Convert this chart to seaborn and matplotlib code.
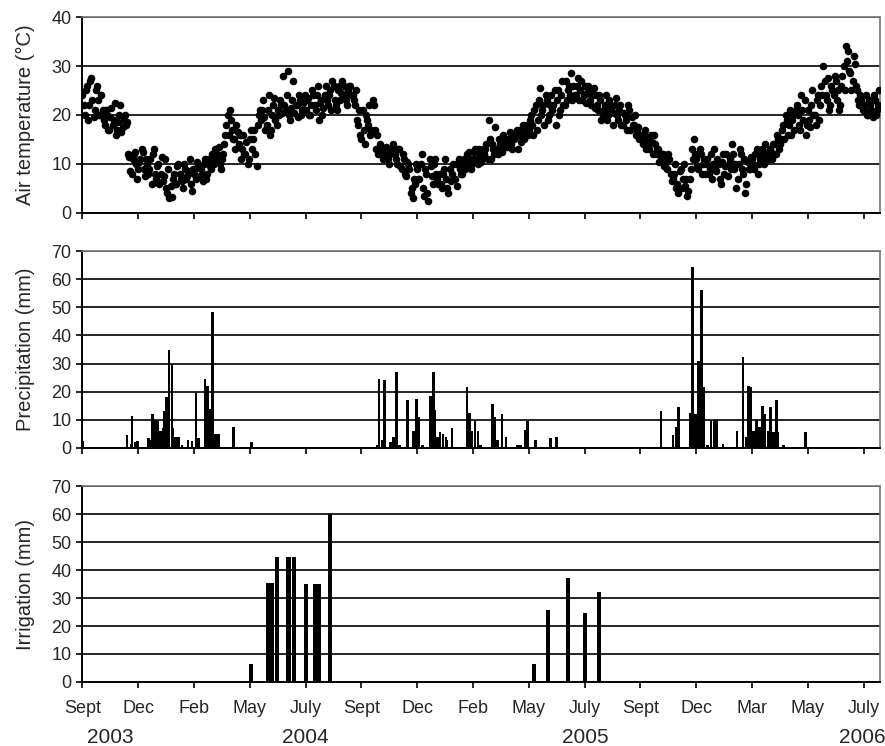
import numpy as np
import pandas as pd
import seaborn as sns
import matplotlib.pyplot as plt

# Air temperature (deg C): one reading every 3 days from
# the start of Sept 2003, plus a second set half way between those days
temp_step = 3
air_temp = [
    24, 20, 26, 22, 27.5, 19.5, 25, 23, 20, 21,
    18, 20, 17, 21.5, 19, 16, 18.5, 22, 17.5, 20,
    18.5, 11.5, 8, 12, 10, 9, 11, 12.5, 7.5, 10,
    9, 6, 13, 7, 10, 8, 6.5, 11, 4, 3,
    3.2, 8, 6, 10, 7, 5, 9, 7.5, 11, 4.5,
    8, 7, 10, 9, 6.5, 11, 8, 9.5, 12, 10,
    11, 13.5, 9, 12, 16, 20, 21, 17, 15, 18,
    14, 11, 16, 12, 10, 15, 13, 17, 9.5, 20,
    19, 23, 17, 21, 16, 20, 23.5, 18, 20, 22,
    28, 21, 29, 19, 23, 20.5, 22, 24, 20, 22.5,
    21, 23.5, 20, 25, 22, 24, 19, 23, 21.5, 26,
    22, 25, 27, 23, 21, 26, 24.5, 26, 23, 25,
    26, 24, 22, 19, 21, 15, 17, 20, 18, 16,
    23, 17, 16, 13, 12.5, 12, 13.5, 11, 12, 14,
    12, 10, 13, 9, 11, 7.5, 10, 4, 3, 6,
    9, 7, 12, 3.5, 8, 2.5, 9.5, 6, 11, 7,
    8, 5, 9, 7, 4, 6.5, 10, 7, 5.5, 9,
    8, 11, 10, 12.5, 9, 11, 13, 10, 12, 11,
    12, 14, 19, 11, 13, 17.5, 12, 14, 12.5, 15,
    13.5, 15, 14, 16, 15.5, 13, 17, 16, 15, 18,
    17, 20, 16, 22, 19, 25.5, 21, 18, 23, 20,
    24, 22, 18, 25, 21, 27, 22, 23, 26, 28.5,
    26, 24, 27.5, 25, 23, 26, 24.5, 25, 22, 25.5,
    24, 21, 23, 20, 22, 19, 23, 21, 20.5, 23.5,
    19, 22, 18, 20, 17, 21, 19.5, 18, 16, 17.5,
    16, 14, 17, 15, 13, 14.5, 16, 12, 13, 11,
    12, 10, 9, 11, 6.5, 8, 5, 4, 9, 7,
    5.5, 3.5, 7, 13, 15, 11, 9, 12, 10, 8,
    11, 9, 7, 13, 8.5, 10, 6, 12, 9.5, 7.5,
    11, 14, 9, 5, 10, 12, 8, 4, 10.5, 9,
    11, 9, 13, 10, 12, 11, 14, 12.5, 13, 11,
    14, 16, 13, 15, 18, 20, 16, 21, 19, 17,
    22, 18, 24, 19, 16, 21, 17.5, 25, 20, 23,
    19, 26, 30, 24, 27.5, 22, 25, 28, 23, 21,
    26, 30, 34, 33, 28.5, 27, 30.5, 25, 22, 23,
    21, 24, 20, 22, 19.5, 23, 21, 25,
]
air_temp_mid = [
    22, 25, 19, 27, 23, 21, 26, 20, 24, 19,
    21, 17, 19.5, 18, 22.5, 17, 20, 16.5, 19, 18,
    12, 8.5, 11, 12.5, 7, 10.5, 13, 9, 11, 8,
    11, 12, 8, 9.5, 6, 11.5, 7.5, 5, 9, 5.5,
    7, 6, 9.5, 8, 6.5, 10, 7, 8.5, 6, 9,
    9, 10.5, 7.5, 8, 10, 7, 11, 9, 10.5, 13,
    12, 10, 11, 14, 18, 16, 19, 15, 13, 16.5,
    16, 13, 12, 14.5, 11, 17, 15, 12, 18, 21,
    21, 19.5, 18, 24, 17, 22, 19, 21, 23, 20.5,
    22, 24, 20, 21.5, 27, 22, 19.5, 23, 21, 24,
    23, 20, 22, 24, 21, 26, 22.5, 20, 24, 23,
    24, 21, 26, 22, 25, 23, 27, 24, 22, 26,
    24, 23, 25, 18, 16, 21, 14, 19, 22, 17,
    22, 13, 12, 14, 11, 13, 12, 10, 13, 12.5,
    11, 13, 9.5, 12, 8, 10.5, 9, 5, 7, 10,
    7, 10, 5, 9, 4, 11, 7.5, 10, 8, 6,
    6, 8, 11, 5, 9, 8, 7, 10, 11, 8,
    10, 9, 12, 11, 10, 12.5, 11, 13, 10.5, 13,
    13, 11, 15, 14, 12, 13, 15, 13.5, 16, 14,
    15, 16.5, 13, 15, 17, 16, 14.5, 18, 17, 16,
    19, 18, 21, 17, 23, 20, 22, 24, 19, 22,
    21, 25, 23, 20, 24, 22, 27, 25, 24, 23,
    24, 26, 23, 27, 24, 22.5, 26, 23, 24, 21.5,
    22, 24, 19, 21, 24, 20, 22, 18, 22, 20,
    21, 18, 20.5, 19, 22, 17, 18, 20, 17, 15,
    15, 16, 13, 14, 16, 12, 14, 13, 10.5, 12,
    9.5, 11, 12, 8, 7, 10, 6, 8.5, 5, 10,
    7, 4.5, 9, 11, 12, 9.5, 13, 8, 11, 10,
    8, 12, 10, 9, 11, 7, 10.5, 8, 12, 10,
    9, 12, 10, 7, 13, 9, 11, 6, 9, 11.5,
    10, 12, 8, 11, 13, 10, 12, 11, 12.5, 14,
    12, 15, 14, 17, 15, 19, 18, 16, 20, 21,
    20, 17, 21, 23, 18, 19, 22, 20, 18, 24,
    22, 24, 27, 23, 21, 26, 24, 27, 25, 22,
    28, 25, 31, 29, 25, 32, 26, 23, 24, 21,
    22, 20, 23, 21, 24, 20, 22,
]

# Precipitation events (day number from start, mm)
precip_day = [
    1, 60, 65, 67, 71, 74, 89, 91, 94, 97, 98, 102, 105, 108, 110, 113, 116,
    120, 122, 125, 129, 134, 142, 147, 153, 156, 165, 168, 171, 175, 179, 183,
    203, 227, 362, 396, 399, 403, 406, 414, 418, 422, 426, 437, 445, 449, 452,
    457, 468, 472, 474, 477, 481, 485, 489, 490, 497, 517, 520, 524, 528, 532,
    535, 551, 554, 558, 564, 569, 585, 589, 595, 598, 609, 629, 637, 769, 778,
    794, 798, 801, 810, 817, 820, 824, 828, 832, 835, 840, 845, 849, 852, 861,
    880, 888, 892, 895, 898, 902, 906, 910, 914, 917, 921, 925, 929, 933, 935,
    942, 972,
]
precip_mm = [
    2.4, 4.5, 1.5, 11.2, 2, 2.6, 3.5, 3, 12, 8, 10, 9.5, 6, 7, 13, 18, 35,
    30, 7, 4, 4, 1, 3, 2.5, 19.5, 3.5, 24.5, 22, 14, 48.5, 5, 5,
    7.5, 2, 0.5, 1, 24.5, 3, 24, 2, 4, 27, 1, 17, 6, 17.5, 11,
    1, 18.5, 27, 13.5, 4, 5.5, 5, 4, 3, 7, 21.5, 12.5, 6, 10, 6,
    1, 15.5, 11, 3, 12, 4, 1, 1, 6.5, 9.5, 3, 3.5, 4, 0.5, 13,
    4.5, 7.5, 14.5, 0.5, 12.5, 64.5, 12, 31, 56, 21.5, 1, 10, 10, 10, 1.5,
    6, 32.5, 4, 22, 21.5, 6, 10, 7.5, 15, 12, 6, 14.5, 5.5, 17, 5.5,
    1, 5.5,
]

# Irrigation events (day number from start, mm)
irrig_day = [226, 249, 255, 261, 277, 284, 301, 313, 318, 333,
             607, 626, 653, 675, 694]
irrig_mm = [6.5, 35.5, 35.5, 44.5, 44.5, 44.5, 35, 35, 35, 60,
            6.3, 25.7, 37, 24.5, 32]

tick_labels = ['Sept', 'Dec', 'Feb', 'May', 'July', 'Sept', 'Dec', 'Feb',
               'May', 'July', 'Sept', 'Dec', 'Mar', 'May', 'July']
year_labels = ['2003', '2004', '2005', '2006']
tick_step = 75  # days between axis ticks

temp_df = pd.concat([
    pd.DataFrame({'day': np.arange(len(air_temp)) * temp_step, 'temp': air_temp}),
    pd.DataFrame({'day': np.arange(len(air_temp_mid)) * temp_step + temp_step / 2,
                  'temp': air_temp_mid}),
], ignore_index=True)

sns.set_style('ticks')
plt.rcParams['font.family'] = ['Liberation Sans', 'DejaVu Sans']

fig = plt.figure(figsize=(8.85, 7.46), dpi=100)
ax1 = fig.add_axes([0.0927, 0.7145, 0.9017, 0.2627])
ax2 = fig.add_axes([0.0927, 0.3995, 0.9017, 0.2640])
ax3 = fig.add_axes([0.0927, 0.0858, 0.9017, 0.2627])
axes = [ax1, ax2, ax3]

sns.scatterplot(data=temp_df, x='day', y='temp', ax=ax1, color='black',
                s=30, edgecolor='black', linewidth=0, zorder=3)
ax2.bar(precip_day, precip_mm, width=3.2, color='black', linewidth=0, zorder=3)
ax3.bar(irrig_day, irrig_mm, width=5.5, color='black', linewidth=0, zorder=3)

ticks = np.arange(len(tick_labels)) * tick_step
for ax, top, ylab in zip(axes, [40, 70, 70],
                         ['Air temperature (°C)', 'Precipitation (mm)', 'Irrigation (mm)']):
    ax.set_xlim(-0.5, 1072)
    ax.set_ylim(0, top)
    ax.set_yticks(np.arange(0, top + 1, 10))
    ax.set_xticks(ticks)
    ax.yaxis.grid(True, color='black', linewidth=1.2)
    ax.set_axisbelow(True)
    ax.set_ylabel(ylab, fontsize=14.5, labelpad=12)
    ax.set_xlabel('')
    ax.tick_params(axis='both', direction='out', length=4, width=1.2,
                   color='black', labelsize=13)
    for side in ['left', 'bottom']:
        ax.spines[side].set_color('black')
        ax.spines[side].set_linewidth(1.4)
    for side in ['top', 'right']:
        ax.spines[side].set_visible(True)
        ax.spines[side].set_color('#777777')
        ax.spines[side].set_linewidth(1.2)
    if ax is not ax3:
        ax.set_xticklabels([])

ax3.set_xticklabels(tick_labels)
ax3.tick_params(axis='x', pad=9)

year_pos = [38, 300, 676, 1048]
for yr, pos in zip(year_labels, year_pos):
    ax3.text(pos, -0.285, yr, transform=ax3.get_xaxis_transform(),
             ha='center', va='center', fontsize=15)

plt.savefig('out.png', dpi=100)
